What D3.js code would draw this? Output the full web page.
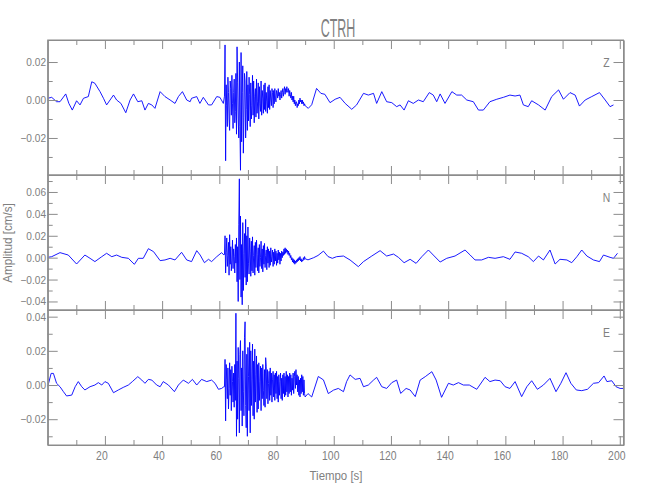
<!DOCTYPE html>
<html><head><meta charset="utf-8">
<script src="https://cdn.jsdelivr.net/npm/d3@7"></script>
<style>body{margin:0;background:#fff} svg{display:block}</style>
</head><body>
<svg id="c" width="650" height="500"></svg>
<script>
// ---------- data (amplitudes in 1e-3 cm/s) ----------
const stationName = "CTRH";
const components = ["Z", "N", "E"];
const xLabel = "Tiempo [s]";
const yLabel = "Amplitud [cm/s]";
const timeRange = [0, 201.3];
const xMajorTicks = [20, 40, 60, 80, 100, 120, 140, 160, 180, 200];
const xMinorTicks = [10, 30, 50, 70, 90, 110, 130, 150, 170, 190];
const yRanges = [[-0.0395, 0.0316], [-0.0478, 0.0755], [-0.0351, 0.0439]];
const yMajorTicks = [[-0.02, 0, 0.02], [-0.04, -0.02, 0, 0.02, 0.04, 0.06], [-0.02, 0, 0.02, 0.04]];
const yMinorTicks = [[-0.03, -0.01, 0.01], [-0.03, -0.01, 0.01, 0.03, 0.05, 0.07], [-0.03, -0.01, 0.01, 0.03]];
const burstStart = 61.8, burstStep = 0.2;

const zPre = [[0,0.9],[1.4,1.4],[3.1,-0.9],[4.3,-0.9],[6.3,3.2],[7.4,-1.8],[8.6,-5.3],[10.1,-0.4],[11.3,-2.6],[12.5,0.9],[14.2,1.8],[15.4,9.6],[16.5,8.8],[18.3,4.4],[19.5,0.9],[20.6,-2.6],[21.8,0],[23.0,2.6],[24.1,0],[25.6,-1.8],[27.3,-6.7],[28.8,0],[30.0,3.2],[31.5,-0.9],[32.9,-0.4],[34.0,-5.3],[35.2,-1.8],[36.4,-2.6],[37.5,-4.4],[39.3,4.4],[41.0,1.8],[42.8,0],[44.5,-1.8],[45.7,1.8],[47.1,4.4],[48.6,0],[49.8,-0.9],[50.3,0.9],[52.1,1.8],[53.2,-1.8],[54.4,1.4],[56.2,-2.6],[57.3,-2.6],[59.1,1.8],[60.2,1.4],[61.4,-1.8]];
const zBurst = [2,29,-32,8,-3,-14,12,4,-10,-16, 10,6,-8,13,-2,-15,4,11,-12,-6, 14,-18,28,9,-10,-20,20,-14,-37,25, -22,4,18,-28,-9,14,10,-20,-5,15, -16,8,-11,12,3,-14,9,-10,-3,13, -8,10,-12,2,6,-9,11,-7,-1,9, -10,7,-2,-6,10,-8,5,1,-7,8, -5,9,-6,4,-1,-7,7,-4,8,-5, 5,0,-3,6,4,-4,5,-2,6,1, -1,5,4,1,6,2,4,0,3,5, 1,4,6,2,5,7,3,6,4,7, 5,4,6,2,5,3,1,4,0,2, -1,2,-2,0,-3,-1,-1,-4,-2,-3, 0,-2,1,-1,0,-2,0,-2,-1,-3,-2,-3];
const zPost = [[91.1,-4.4],[92.3,-2.5],[94.0,6.1],[95.5,3.5],[96.9,3.0],[98.7,-1.4],[100.5,0.4],[102.2,1.4],[104.0,-1.8],[106.3,-4.9],[108.0,-2.6],[110.4,3.5],[112.1,2.6],[113.9,3.5],[115.0,-1.8],[116.8,4.4],[118.5,-0.9],[120.3,-1.4],[122.0,-3.5],[123.2,-2.6],[124.6,-5.3],[126.1,-0.4],[127.8,-1.8],[129.6,0],[131.3,-0.9],[133.4,3.9],[134.8,2.6],[136.0,-0.9],[137.2,3.2],[138.9,-1.8],[141.3,4.4],[143.0,2.6],[144.7,2.6],[146.5,0],[148.8,-0.9],[150.6,-5.3],[152.3,-5.3],[154.6,-0.9],[157.0,0.4],[159.3,1.4],[161.6,2.6],[163.4,2.1],[165.1,2.6],[166.3,-2.6],[168.0,-3.5],[169.2,-0.4],[171.6,-2.6],[173.9,-5.3],[176.2,1.8],[178.6,5.3],[180.3,0.4],[182.6,3.9],[184.4,2.6],[185.9,-3.2],[187.9,0],[190.2,1.8],[192.9,3.9],[194.9,0],[196.6,-3.5],[197.8,-2.6]];

const nPre = [[0,0.3],[1.4,0.9],[4.3,4.6],[7.2,2.4],[10.1,-5.8],[13.0,2.4],[14.8,-0.6],[16.5,-3.6],[18.9,0.9],[20.6,4.0],[22.4,0.9],[24.1,2.4],[25.9,0.3],[28.2,-0.6],[30.3,-6.1],[31.7,-0.6],[33.4,-0.6],[35.2,8.2],[37.0,5.5],[39.3,-2.7],[41.0,-2.1],[42.8,-0.6],[44.5,-2.1],[46.8,4.9],[48.6,-2.1],[50.3,-3.6],[52.1,6.4],[53.3,2.4],[54.8,-4.6],[56.2,-1.5],[57.3,-3.6],[59.1,0.9],[60.8,4.6],[61.6,2.4]];
const nBurst = [3,20,-14,5,18,-8,2,14,-16,21, -6,10,-12,-3,16,-10,8,1,-14,12, -5,18,-22,10,-40,30,72,-20,38,-36, 12,-43,32,-30,4,22,-18,35,-25,20, -22,28,-5,-15,18,6,-17,15,-12,19, -14,2,11,-16,14,-9,16,3,-12,9, -14,12,-8,0,15,-10,8,-13,11,-6, 13,-9,2,7,-11,10,-5,8,-9,6, -7,9,-4,1,7,-8,5,-6,8,-3, 6,-7,4,-5,7,-2,5,-6,4,-3, 6,0,5,2,8,3,9,4,8,5, 7,3,6,2,4,0,2,-2,0,-4, -1,-5,-2,-6,-3,-5,-2,-4,-1,-3, 0,-2,1,-3,-1,-4,-2,-3,0,-2,1,-1];
const nPost = [[91.0,-2],[93.0,0],[94.5,2],[96.4,6],[98.0,1],[99.5,-0.6],[101.0,0.9],[103.4,1.5],[105.7,-2.1],[108.6,-8.2],[110.4,-3.6],[113.3,1.5],[116.2,6.4],[118.5,1.5],[120.9,3.3],[122.6,0.3],[124.6,-4.6],[126.7,-1.5],[128.8,-5.2],[130.8,0.9],[133.1,7.0],[134.8,2.4],[137.2,-4.0],[139.5,-0.6],[142.4,1.5],[145.9,7.0],[147.7,2.4],[149.4,-2.1],[151.7,-2.1],[154.1,0.3],[156.4,-0.6],[159.3,0.9],[161.6,-1.5],[163.4,5.2],[165.7,4.0],[168.0,0.9],[169.8,-3.6],[171.6,1.5],[173.3,-2.1],[175.6,7.0],[177.4,-5.8],[179.1,-1.5],[181.5,-2.1],[183.2,-4.6],[185.0,0.9],[186.7,7.0],[188.5,1.5],[190.8,-2.1],[192.9,-3.6],[194.3,2.4],[196.6,0.3],[197.8,-0.6],[199.2,4.0]];

const ePre = [[0,-1.0],[1.2,6.8],[2.0,6.8],[3.1,1.0],[4.3,-1.0],[5.5,-3.9],[6.6,-6.4],[8.4,-5.9],[9.6,-1.0],[10.7,2.0],[11.9,-1.0],[13.0,-2.9],[14.8,-1.0],[16.5,0],[17.7,1.4],[18.9,0],[20.0,2.0],[21.2,1.0],[23.0,-4.5],[24.7,-2.9],[26.4,-1.4],[28.2,0],[29.6,2.0],[31.5,4.9],[32.9,2.9],[34.0,1.0],[35.2,3.3],[36.4,2.9],[38.1,0],[39.3,-1.0],[40.4,2.0],[42.2,0],[44.3,-3.9],[45.7,0],[47.4,2.9],[49.2,1.0],[50.6,3.3],[52.1,0],[53.8,3.3],[55.6,2.0],[57.3,2.9],[58.5,1.0],[59.7,-2.5],[60.8,-2.0],[61.6,-1.0]];
const eBurst = [-1,15,-21,12,3,-8,10,-14,-2,13, -6,9,-15,11,2,-10,7,-13,12,-9, 42,-30,14,-20,22,4,-28,18,26,-15, 10,-24,20,-4,-18,28,37,-12,-25,18, -30,22,5,-15,25,-28,20,-12,3,24, -18,14,-20,21,-10,6,17,-16,12,-14, 13,-9,2,11,-15,10,-8,12,-3,-12, 9,-13,16,11,-8,9,-11,1,8,-9, 10,-6,7,-10,3,8,-7,6,-9,7, -5,8,-8,5,-10,6,-6,2,7,-8, 4,-9,6,-5,7,-7,5,-6,8,-4, 6,-7,5,-5,7,-4,6,-6,4,-3, 7,-5,5,8,-2,9,0,6,-4,5, -6,3,-7,4,-5,6,-4,5,-6,3,-5,-7];
const ePost = [[91.0,-5],[92.3,-7],[94.6,5],[96.4,3],[98.1,-5],[99.9,-3],[101.6,-2.0],[103.4,-3.9],[104.5,2.0],[105.7,5.9],[107.5,3.3],[109.2,3.9],[110.4,-1.0],[112.1,0],[113.9,2.9],[115.0,4.5],[116.8,-1.0],[118.5,-2.0],[120.3,1.4],[122.0,2.9],[123.4,-4.9],[125.3,-2.0],[126.7,-2.9],[128.5,-6.8],[130.2,2.9],[132.0,4.9],[134.3,7.8],[135.8,2.9],[137.7,-7.2],[140.1,1.0],[141.8,0],[143.6,1.4],[145.3,0],[147.4,0],[150.0,-2.5],[152.9,4.5],[154.6,2.0],[156.4,2.9],[158.2,2.5],[159.9,-1.0],[161.6,-2.0],[163.4,2.0],[165.7,-6.8],[167.5,-1.0],[169.2,2.5],[171.2,-2.5],[173.3,0],[175.6,3.9],[177.7,-3.9],[179.4,1.0],[181.2,7.2],[182.9,1.0],[184.8,-2.9],[186.7,-3.3],[188.7,-2.5],[190.8,1.0],[192.6,1.4],[194.5,5.3],[195.5,2.0],[197.2,2.5],[198.7,-1.0],[200.1,-2.0],[201.3,-2.0]];

// ---------- drawing ----------
const traces = [[zPre, zBurst, zPost], [nPre, nBurst, nPost], [ePre, eBurst, ePost]];
const svg = d3.select("#c");
const L = 47.7, R = 623.5, panelH = 135, tops = [40, 175, 310];
const textCol = "#808080", axisCol = "#8c8c8c", font = "'Liberation Sans', Arial, sans-serif";
const x = d3.scaleLinear().domain(timeRange).range([L, R]);
const fmt = d3.format(".2f");

function label(txt, tx, ty, size, sx, anchor, rot) {
  svg.append("text")
    .attr("transform", `translate(${tx},${ty})` + (rot ? ` rotate(${rot})` : "") + ` scale(${sx},1)`)
    .attr("text-anchor", anchor).attr("font-family", font).attr("font-size", size)
    .attr("fill", textCol).text(txt);
}
function styleAxis(g) {
  g.selectAll("path,line").attr("stroke", axisCol).attr("stroke-width", 1);
  g.selectAll("text").remove();
}

traces.forEach((tr, k) => {
  const top = tops[k], bot = top + panelH;
  const y = d3.scaleLinear().domain(yRanges[k]).range([bot, top]);
  const pts = tr[0].concat(tr[1].map((v, i) => [burstStart + i * burstStep, v]), tr[2]);

  svg.append("clipPath").attr("id", "cp" + k).append("rect")
    .attr("x", L).attr("y", top).attr("width", R - L).attr("height", panelH);
  svg.append("path").datum(pts).attr("clip-path", `url(#cp${k})`)
    .attr("fill", "none").attr("stroke", "#0000ff").attr("stroke-width", 0.9)
    .attr("stroke-linejoin", "round")
    .attr("d", d3.line().x(d => x(d[0])).y(d => y(d[1] * 1e-3)));

  svg.append("rect").attr("x", L).attr("y", top).attr("width", R - L).attr("height", panelH)
    .attr("fill", "none").attr("stroke", axisCol).attr("stroke-width", 1);

  svg.append("g").attr("transform", `translate(${L},0)`)
    .call(d3.axisLeft(y).tickValues(yMajorTicks[k]).tickSize(-10).tickSizeOuter(0)).call(styleAxis);
  svg.append("g").attr("transform", `translate(${L},0)`)
    .call(d3.axisLeft(y).tickValues(yMinorTicks[k]).tickSize(-5).tickSizeOuter(0)).call(styleAxis);
  svg.append("g").attr("transform", `translate(${R},0)`)
    .call(d3.axisRight(y).tickValues(yMajorTicks[k]).tickSize(-10).tickSizeOuter(0)).call(styleAxis);
  svg.append("g").attr("transform", `translate(${R},0)`)
    .call(d3.axisRight(y).tickValues(yMinorTicks[k]).tickSize(-5).tickSizeOuter(0)).call(styleAxis);
  [[d3.axisTop, top], [d3.axisBottom, bot]].forEach(([ax, yy]) => {
    svg.append("g").attr("transform", `translate(0,${yy})`)
      .call(ax(x).tickValues(xMajorTicks).tickSize(-9).tickSizeOuter(0)).call(styleAxis);
    svg.append("g").attr("transform", `translate(0,${yy})`)
      .call(ax(x).tickValues(xMinorTicks).tickSize(-5).tickSizeOuter(0)).call(styleAxis);
  });

  yMajorTicks[k].forEach(v => label(fmt(v), 46, y(v) + 4, 11, 0.92, "end"));
  label(components[k], 606.5, top + 26.5, 13, 0.8, "middle");

  if (k === 2) xMajorTicks.forEach(v => label(String(v), x(v) - 3, 460, 13, 0.8, "middle"));
});

label(stationName, 338, 37, 25, 0.5, "middle");
label(xLabel, 336, 480, 13, 0.88, "middle");
label(yLabel, 11.5, 243, 12, 0.97, "middle", -90);
</script>
</body></html>
